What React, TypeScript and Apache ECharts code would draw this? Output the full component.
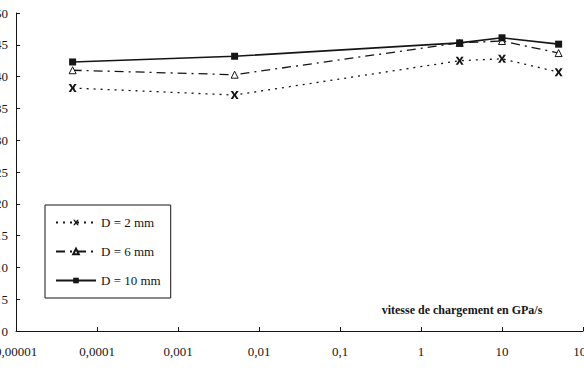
import React, { useEffect, useRef } from "react";
import * as echarts from "echarts";

// Loading rate (GPa/s) and strength per specimen diameter
const loadingRates = [0.00005, 0.005, 3, 10, 50];
const seriesNames = ["D = 2 mm", "D = 6 mm", "D = 10 mm"];
const valuesD2 = [38.2, 37.1, 42.5, 42.8, 40.7];
const valuesD6 = [41.0, 40.3, 45.3, 45.6, 43.7];
const valuesD10 = [42.3, 43.2, 45.3, 46.1, 45.1];
const xTickLabels = ["0,00001", "0,0001", "0,001", "0,01", "0,1", "1", "10", "100"];
const xAxisTitle = "vitesse de chargement en GPa/s";

const INK = "#151515";
const FONT = "'Liberation Serif', 'Times New Roman', serif";
const crossSymbol =
  "path://M0,0 L3,0 L5,3.4 L7,0 L10,0 L6.6,5 L10,10 L7,10 L5,6.6 L3,10 L0,10 L3.4,5 Z";

export default function App() {
  const ref = useRef<HTMLDivElement>(null);

  useEffect(() => {
    if (!ref.current) return;
    const chart = echarts.init(ref.current, null, { renderer: "svg" });
    const pairs = (vals: number[]) => loadingRates.map((x, i) => [x, vals[i]]);

    chart.setOption({
      animation: false,
      backgroundColor: "#ffffff",
      textStyle: { fontFamily: FONT, color: INK },
      grid: { left: 16, right: 1, top: 13, bottom: 45, outerBoundsMode: "none", containLabel: false },
      legend: {
        orient: "vertical",
        left: 45,
        top: 205,
        padding: [11, 10, 11, 10],
        borderColor: INK,
        borderWidth: 1,
        itemWidth: 40,
        itemHeight: 7,
        itemGap: 16,
        textStyle: { fontFamily: FONT, fontSize: 13, color: INK },
        data: seriesNames,
      },
      xAxis: {
        type: "log",
        logBase: 10,
        min: 0.00001,
        max: 100,
        axisLine: { lineStyle: { color: INK, width: 1 } },
        axisTick: { inside: true, length: 4, lineStyle: { color: INK } },
        splitLine: { show: false },
        axisLabel: {
          margin: 14,
          fontFamily: FONT,
          fontSize: 13,
          color: INK,
          showMinLabel: true,
          showMaxLabel: true,
          formatter: (v: number) => xTickLabels[Math.round(Math.log10(v)) + 5] ?? "",
        },
      },
      yAxis: {
        type: "value",
        min: 0,
        max: 50,
        interval: 5,
        axisLine: { show: true, lineStyle: { color: INK, width: 1 } },
        axisTick: { show: true, inside: true, length: 4, lineStyle: { color: INK } },
        splitLine: { show: false },
        axisLabel: { margin: 8, fontFamily: FONT, fontSize: 13, color: INK },
      },
      graphic: [
        {
          type: "text",
          x: 462,
          y: 310,
          style: {
            text: xAxisTitle,
            fontFamily: FONT,
            fontWeight: "bold",
            fontSize: 12,
            fill: INK,
            align: "center",
            verticalAlign: "middle",
          },
        },
      ],
      series: [
        {
          name: seriesNames[0],
          type: "line",
          data: pairs(valuesD2),
          symbol: crossSymbol,
          symbolSize: 8,
          itemStyle: { color: INK },
          lineStyle: { color: INK, width: 1.3, type: [2, 5] },
        },
        {
          name: seriesNames[1],
          type: "line",
          data: pairs(valuesD6),
          symbol: "triangle",
          symbolSize: 7,
          itemStyle: { color: "#ffffff", borderColor: INK, borderWidth: 1 },
          lineStyle: { color: INK, width: 1.3, type: [9, 5, 2, 5] },
        },
        {
          name: seriesNames[2],
          type: "line",
          data: pairs(valuesD10),
          symbol: "rect",
          symbolSize: 7,
          itemStyle: { color: INK },
          lineStyle: { color: INK, width: 1.6, type: "solid" },
        },
      ],
    });
    return () => chart.dispose();
  }, []);

  return (
    <div
      ref={ref}
      style={{ position: "fixed", left: 0, top: 0, width: 584, height: 376, background: "#fff" }}
    />
  );
}
